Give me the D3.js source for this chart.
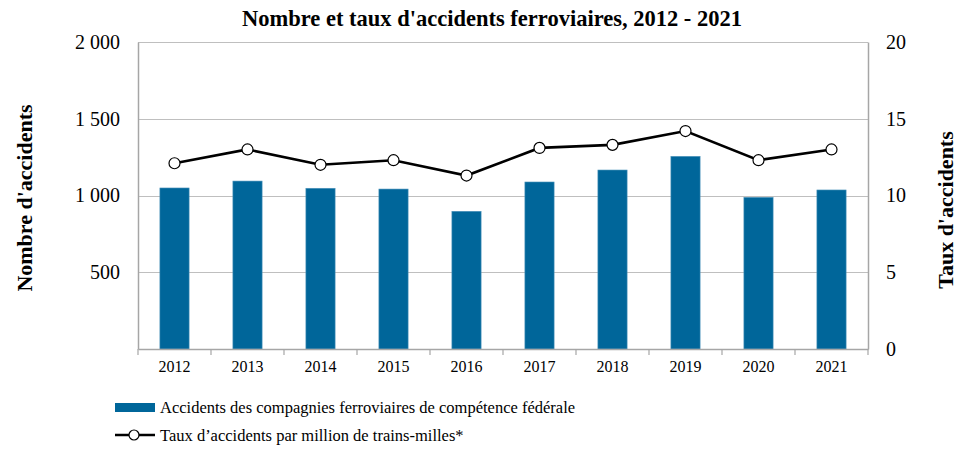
<!DOCTYPE html>
<html>
<head>
<meta charset="utf-8">
<script src="https://cdn.jsdelivr.net/npm/d3@7"></script>
<style>
  body { margin: 0; background: #fff; }
  svg text { font-family: "Liberation Serif", "Times New Roman", serif; fill: #000; }
</style>
</head>
<body>
<div id="chart"></div>
<script>
(function () {

  "use strict";

  // data
  var years = ["2012", "2013", "2014", "2015", "2016", "2017", "2018", "2019", "2020", "2021"];
  var accidents = [1049, 1094, 1047, 1042, 897, 1088, 1166, 1255, 988, 1036];
  var rates = [12.1, 13.0, 12.0, 12.3, 11.3, 13.1, 13.3, 14.2, 12.3, 13.0];
  var leftTicks = [0, 500, 1000, 1500, 2000];
  var rightTicks = [0, 5, 10, 15, 20];

  var W = 958, H = 451;
  var margin = {left: 138, right: 90, top: 42, bottom: 102};
  var plotW = W - margin.left - margin.right;
  var plotH = H - margin.top - margin.bottom;
  var barColor = "#00669a";
  var gridColor = "#bfbfbf";

  var svg = d3.select("#chart").append("svg").attr("width", W).attr("height", H);

  var x = d3.scaleBand().domain(years).range([0, plotW]).paddingInner(0.6).paddingOuter(0.3);
  var band = d3.scaleBand().domain(years).range([0, plotW]);
  var yLeft = d3.scaleLinear().domain([0, 2000]).range([plotH, 0]);
  var yRight = d3.scaleLinear().domain([0, 20]).range([plotH, 0]);

  var fmt = function (d) { return d3.format(",")(d).replace(/,/g, " "); };

  var g = svg.append("g").attr("transform", "translate(" + margin.left + "," + margin.top + ")");

  // gridlines
  g.append("g").selectAll("line").data(leftTicks.slice(1)).join("line")
    .attr("x1", 0).attr("x2", plotW)
    .attr("y1", function (d) { return Math.round(yLeft(d)) + 0.5; })
    .attr("y2", function (d) { return Math.round(yLeft(d)) + 0.5; })
    .attr("stroke", gridColor).attr("stroke-width", 1.2);

  // left axis
  var leftAxis = g.append("g")
    .call(d3.axisLeft(yLeft).tickValues(leftTicks).tickSize(0).tickPadding(18)
      .tickFormat(function (d) { return d === 0 ? "" : fmt(d); }));
  leftAxis.select(".domain").attr("stroke", "#a6a6a6").attr("stroke-width", 1.5);
  leftAxis.selectAll("text").attr("font-size", 20);

  // right axis
  var rightAxis = g.append("g").attr("transform", "translate(" + plotW + ",0)")
    .call(d3.axisRight(yRight).tickValues(rightTicks).tickSize(0).tickPadding(18));
  rightAxis.select(".domain").attr("stroke", "#a6a6a6").attr("stroke-width", 1.5);
  rightAxis.selectAll("text").attr("font-size", 20);

  // bars
  g.append("g").selectAll("rect").data(accidents).join("rect")
    .attr("x", function (d, i) { return x(years[i]); })
    .attr("y", function (d) { return yLeft(d); })
    .attr("width", x.bandwidth())
    .attr("height", function (d) { return plotH - yLeft(d); })
    .attr("fill", barColor)
    .attr("stroke", "#4d94bb").attr("stroke-width", 0.6);

  // bottom axis
  var bottomAxis = g.append("g").attr("transform", "translate(0," + plotH + ")")
    .call(d3.axisBottom(band).tickSize(0).tickPadding(12));
  bottomAxis.select(".domain").attr("stroke", "#a6a6a6").attr("stroke-width", 1.5);
  bottomAxis.selectAll("text").attr("font-size", 16);
  var bounds = years.map(function (d) { return band(d); }).concat([plotW]);
  bottomAxis.selectAll(".sep").data(bounds).join("line").attr("class", "sep")
    .attr("x1", function (d) { return d; }).attr("x2", function (d) { return d; })
    .attr("y1", 0).attr("y2", 6)
    .attr("stroke", "#a6a6a6").attr("stroke-width", 1.2);

  // rate line
  var cx = function (d, i) { return band(years[i]) + band.bandwidth() / 2; };
  var line = d3.line().x(cx).y(function (d) { return yRight(d); });
  g.append("path").datum(rates)
    .attr("d", line).attr("fill", "none")
    .attr("stroke", "#000").attr("stroke-width", 2.6);
  g.append("g").selectAll("circle").data(rates).join("circle")
    .attr("cx", cx).attr("cy", function (d) { return yRight(d); })
    .attr("r", 5.5).attr("fill", "#fff").attr("stroke", "#000").attr("stroke-width", 1.2);

  // title
  svg.append("text").attr("x", 492).attr("y", 26).attr("text-anchor", "middle")
    .attr("font-size", 22.5).attr("font-weight", "bold")
    .text("Nombre et taux d'accidents ferroviaires, 2012 - 2021");

  // axis titles
  svg.append("text").attr("transform", "translate(32,198) rotate(-90)")
    .attr("text-anchor", "middle").attr("font-size", 22).attr("font-weight", "bold")
    .text("Nombre d'accidents");
  svg.append("text").attr("transform", "translate(953,210) rotate(-90)")
    .attr("text-anchor", "middle").attr("font-size", 22).attr("font-weight", "bold")
    .text("Taux d'accidents");

  // legend
  var legend = svg.append("g").attr("transform", "translate(115,0)");
  legend.append("rect").attr("x", 0).attr("y", 403).attr("width", 40).attr("height", 9)
    .attr("fill", barColor);
  legend.append("text").attr("x", 45).attr("y", 413).attr("font-size", 16.5)
    .text("Accidents des compagnies ferroviaires de compétence fédérale");
  legend.append("line").attr("x1", 0).attr("x2", 40).attr("y1", 435).attr("y2", 435)
    .attr("stroke", "#000").attr("stroke-width", 2.6);
  legend.append("circle").attr("cx", 19).attr("cy", 435).attr("r", 5)
    .attr("fill", "#fff").attr("stroke", "#000").attr("stroke-width", 1.2);
  legend.append("text").attr("x", 45).attr("y", 441).attr("font-size", 16.5)
    .text("Taux d’accidents par million de trains-milles*");

}());
</script>
</body>
</html>
